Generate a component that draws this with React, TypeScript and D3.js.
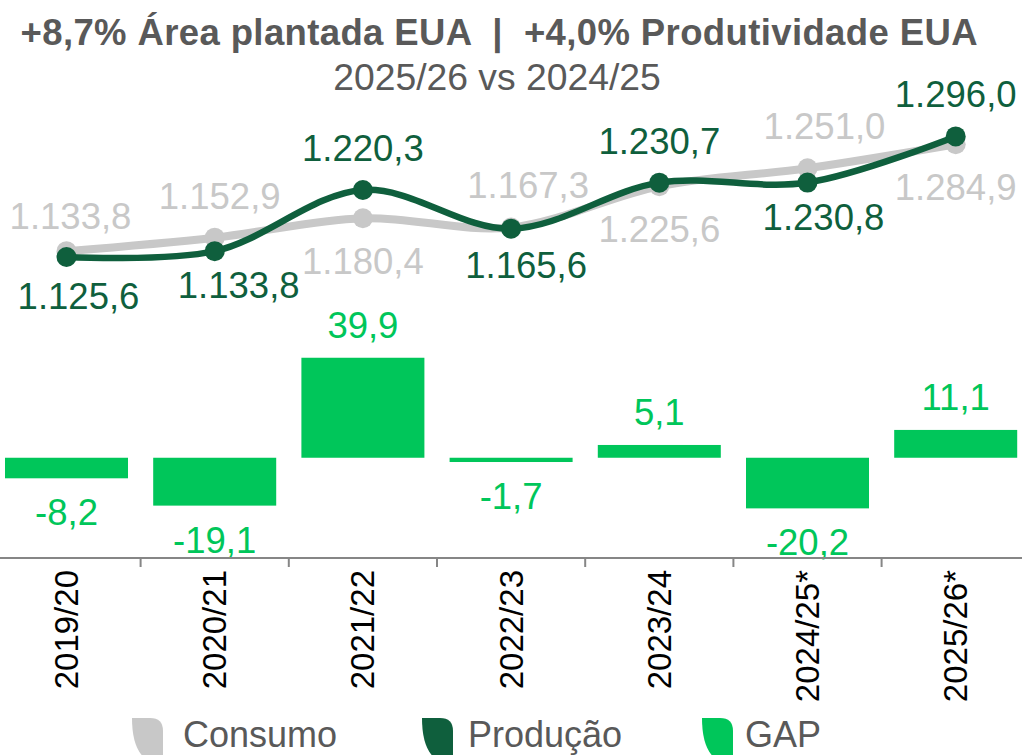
import React, { useRef, useEffect } from 'react';
import * as d3 from 'd3';

const categories = ['2019/20', '2020/21', '2021/22', '2022/23', '2023/24', '2024/25*', '2025/26*'];
const consumo = [1133.8, 1152.9, 1180.4, 1167.3, 1225.6, 1251.0, 1284.9];
const producao = [1125.6, 1133.8, 1220.3, 1165.6, 1230.7, 1230.8, 1296.0];
const gap = [-8.2, -19.1, 39.9, -1.7, 5.1, -20.2, 11.1];
const consumoLabelPos = ['above', 'above', 'below', 'above', 'below', 'above', 'below'];
const producaoLabelPos = ['below', 'below', 'above', 'below', 'above', 'below', 'above'];
const seriesNames = ['Consumo', 'Produção', 'GAP'];

const title = '+8,7% Área plantada EUA  |  +4,0% Produtividade EUA';
const subtitle = '2025/26 vs 2024/25';

const GRAY = '#c8c8c8';
const DARK = '#0f5f3d';
const GREEN = '#00c65a';
const TEXT = '#595959';
const FONT = 'Liberation Sans, Arial, sans-serif';

const locale = d3.formatLocale({ decimal: ',', thousands: '.', grouping: [3], currency: ['', ''], minus: '-' });
const fmt = locale.format(',.1f');

const W = 1022;
const H = 755;

// small manual nudges of data labels, as in the original (px)
const consumoNudge = [[4, 7], [5, 0], [0, 0], [17, 0], [0, 0], [17, 0], [0, 0]];
const producaoNudge = [[12, 3], [24, -2], [0, 0], [15, 0], [0, 0], [16, -2], [0, 0]];

const App = () => {
  const chartRef = useRef<SVGSVGElement>(null);

  useEffect(() => {
    const svg = d3.select(chartRef.current);
    svg.selectAll('*').remove();

    const x = d3
      .scaleBand()
      .domain(categories)
      .range([-7.6, 1029.8])
      .paddingInner(0.17)
      .paddingOuter(0.085);
    const step = x.step();
    const cx = (i: number) => (x(categories[i]) as number) + x.bandwidth() / 2;

    const yLine = d3.scaleLinear().domain([1100, 1300]).range([275.1, 133.6]);
    const yBar = d3.scaleLinear().domain([-40, 40]).range([558, 357.5]);

    // title
    svg
      .append('text')
      .attr('x', 499)
      .attr('y', 45)
      .attr('text-anchor', 'middle')
      .attr('font-family', FONT)
      .attr('font-weight', 'bold')
      .attr('font-size', 36.5)
      .attr('fill', TEXT)
      .attr('textLength', 957)
      .attr('lengthAdjust', 'spacing')
      .style('white-space', 'pre')
      .text(title);
    svg
      .append('text')
      .attr('x', 497)
      .attr('y', 90)
      .attr('text-anchor', 'middle')
      .attr('font-family', FONT)
      .attr('font-size', 37.3)
      .attr('fill', TEXT)
      .text(subtitle);

    // gap bars
    svg
      .selectAll('.bar')
      .data(gap)
      .enter()
      .append('rect')
      .attr('class', 'bar')
      .attr('x', (d, i) => x(categories[i]) as number)
      .attr('width', x.bandwidth())
      .attr('y', (d) => yBar(Math.max(0, d)))
      .attr('height', (d) => Math.abs(yBar(d) - yBar(0)))
      .attr('fill', GREEN);

    svg
      .selectAll('.bar-label')
      .data(gap)
      .enter()
      .append('text')
      .attr('class', 'bar-label')
      .attr('x', (d, i) => cx(i))
      .attr('y', (d) => (d >= 0 ? yBar(d) - 20 : yBar(d) + 47))
      .attr('text-anchor', 'middle')
      .attr('font-family', FONT)
      .attr('font-size', 36.5)
      .attr('fill', GREEN)
      .text((d) => fmt(d));

    // x axis
    const xAxis = d3.axisBottom(x).tickSize(0).tickPadding(0);
    const axisG = svg.append('g').attr('transform', `translate(0, ${yBar(-40)})`).call(xAxis);
    axisG.select('path').remove();
    axisG
      .selectAll('text')
      .attr('transform', 'rotate(-90)')
      .attr('text-anchor', 'end')
      .attr('x', -12)
      .attr('y', 0)
      .attr('dy', '0.35em')
      .attr('font-family', FONT)
      .attr('font-size', 33)
      .attr('fill', '#000');
    svg
      .append('line')
      .attr('x1', 0)
      .attr('x2', W)
      .attr('y1', yBar(-40))
      .attr('y2', yBar(-40))
      .attr('stroke', '#868686')
      .attr('stroke-width', 2);
    svg
      .selectAll('.tick-mark')
      .data(categories.slice(1))
      .enter()
      .append('line')
      .attr('class', 'tick-mark')
      .attr('x1', (d) => (x(d) as number) - (step - x.bandwidth()) / 2)
      .attr('x2', (d) => (x(d) as number) - (step - x.bandwidth()) / 2)
      .attr('y1', yBar(-40))
      .attr('y2', yBar(-40) + 9)
      .attr('stroke', '#868686')
      .attr('stroke-width', 2);

    // lines
    const line = d3
      .line<number>()
      .x((d, i) => cx(i))
      .y((d) => yLine(d))
      .curve(d3.curveCatmullRom);

    const drawSeries = (
      values: number[],
      color: string,
      width: number,
      r: number,
      pos: string[],
      below: number,
      nudge: number[][]
    ) => {
      svg
        .append('path')
        .datum(values)
        .attr('d', line)
        .attr('fill', 'none')
        .attr('stroke', color)
        .attr('stroke-width', width)
        .attr('stroke-linecap', 'round');
      svg
        .append('g')
        .selectAll('circle')
        .data(values)
        .enter()
        .append('circle')
        .attr('cx', (d, i) => cx(i))
        .attr('cy', (d) => yLine(d))
        .attr('r', r)
        .attr('fill', color);
      svg
        .append('g')
        .selectAll('text')
        .data(values)
        .enter()
        .append('text')
        .attr('x', (d, i) => cx(i) + nudge[i][0])
        .attr('y', (d, i) => (pos[i] === 'above' ? yLine(d) - 29 : yLine(d) + below) + nudge[i][1])
        .attr('text-anchor', 'middle')
        .attr('font-family', FONT)
        .attr('font-size', 36.5)
        .attr('fill', color)
        .text((d) => fmt(d));
    };

    drawSeries(consumo, GRAY, 8, 10, consumoLabelPos, 56, consumoNudge);
    drawSeries(producao, DARK, 6.5, 10, producaoLabelPos, 49, producaoNudge);

    // legend
    const legendColors = [GRAY, DARK, GREEN];
    const iconX = [132, 422, 702];
    const textX = [183, 468, 745];
    const legend = svg
      .selectAll('.legend')
      .data(seriesNames)
      .enter()
      .append('g')
      .attr('class', 'legend');
    legend
      .append('path')
      .attr('d', (d, i) => {
        const x0 = iconX[i];
        const x1 = x0 + 31;
        const y0 = 718;
        const y1 = 764;
        return `M${x0},${y0} H${x1 - 13} Q${x1},${y0} ${x1},${y0 + 13} V${y1} Q${x0},${y1} ${x0},${y0} Z`;
      })
      .attr('fill', (d, i) => legendColors[i]);
    legend
      .append('text')
      .attr('x', (d, i) => textX[i])
      .attr('y', 747)
      .attr('font-family', FONT)
      .attr('font-size', 36)
      .attr('fill', TEXT)
      .text((d) => d);
  }, []);

  return (
    <svg
      ref={chartRef}
      width={W}
      height={H}
      style={{ position: 'absolute', left: 0, top: 0, background: '#fff' }}
    ></svg>
  );
};

export default App;
